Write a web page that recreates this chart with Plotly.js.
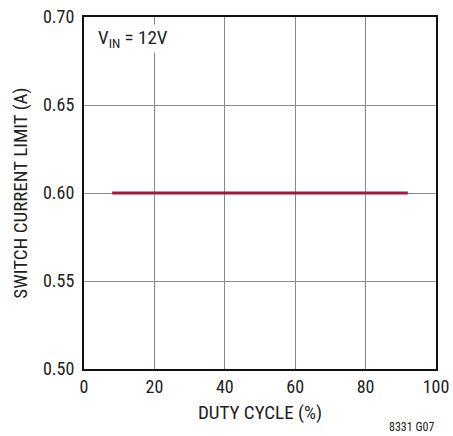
<!DOCTYPE html>
<html>
<head>
<meta charset="utf-8">
<script src="https://cdn.plot.ly/plotly-3.0.1.min.js"></script>
<style>html,body{margin:0;padding:0;background:#fff;}#chart{width:453px;height:436px;}</style>
</head>
<body>
<div id="chart"></div>
<script>
const dutyCycle = [8, 92];
const switchCurrentLimit = [0.60, 0.60];
const xTickVals = [0, 20, 40, 60, 80, 100];
const yTickVals = [0.50, 0.55, 0.60, 0.65, 0.70];
const yTickText = ["0.50", "0.55", "0.60", "0.65", "0.70"];

const FONT = "'Liberation Sans Narrow', 'Roboto Condensed', 'DejaVu Sans Condensed', Arial, sans-serif";

const trace = {
  x: dutyCycle,
  y: switchCurrentLimit,
  type: 'scatter',
  mode: 'lines',
  line: {color: '#a3173f', width: 3},
  hoverinfo: 'none'
};

const layout = {
  width: 453,
  height: 436,
  margin: {l: 84, r: 17, t: 17, b: 67},
  paper_bgcolor: '#fff',
  plot_bgcolor: '#fff',
  showlegend: false,
  font: {family: FONT, color: '#222', size: 18},
  xaxis: {
    range: [0, 100],
    tickvals: xTickVals,
    ticks: '',
    showgrid: true,
    gridcolor: '#888',
    gridwidth: 1,
    zeroline: false,
    showline: true,
    linecolor: '#111',
    linewidth: 2,
    mirror: true,
    automargin: false,
    tickfont: {family: FONT, size: 18, color: '#222'},
    title: {text: 'DUTY CYCLE (%)', font: {family: FONT, size: 19, color: '#222'}, standoff: 10}
  },
  yaxis: {
    range: [0.5, 0.7],
    tickvals: yTickVals,
    ticktext: yTickText,
    ticks: '',
    ticklabelstandoff: 4,
    showgrid: true,
    gridcolor: '#888',
    gridwidth: 1,
    zeroline: false,
    showline: true,
    linecolor: '#111',
    linewidth: 2,
    mirror: true,
    automargin: false,
    tickfont: {family: FONT, size: 18, color: '#222'},
    title: {text: 'SWITCH CURRENT LIMIT (A)', font: {family: FONT, size: 19, color: '#222'}, standoff: 10}
  },
  annotations: [
    {
      xref: 'paper', yref: 'paper', x: 0.035, y: 0.98,
      xanchor: 'left', yanchor: 'top', showarrow: false,
      text: 'V<sub>IN</sub> = 12V',
      font: {family: FONT, size: 19, color: '#222'},
      bgcolor: '#fff'
    },
    {
      xref: 'paper', yref: 'paper', x: 1.0, y: -0.14,
      xanchor: 'right', yanchor: 'top', showarrow: false,
      text: '8331 G07',
      font: {family: FONT, size: 12, color: '#222'}
    }
  ]
};

Plotly.newPlot('chart', [trace], layout, {displayModeBar: false, staticPlot: true});
</script>
</body>
</html>
